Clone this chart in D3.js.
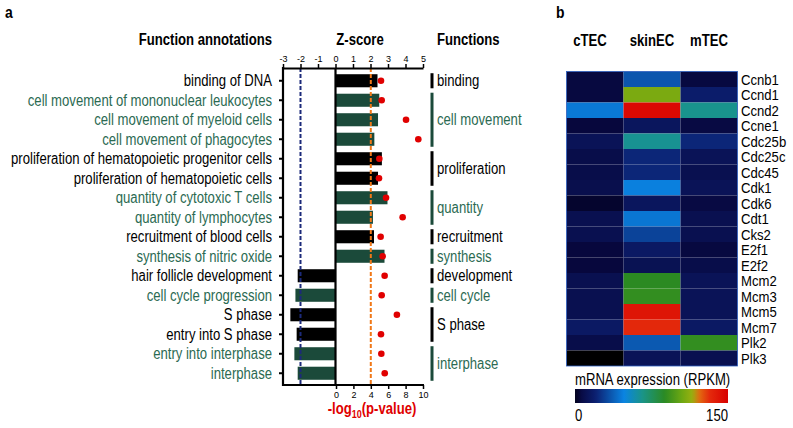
<!DOCTYPE html>
<html><head><meta charset="utf-8">
<script src="https://cdn.jsdelivr.net/npm/d3@7"></script>
<style>
body{margin:0;background:#fff;}
svg{font-family:"Liberation Sans",Arial,sans-serif;}
</style></head>
<body><svg id="c" width="793" height="428"></svg>
<script>
// ---------- Panel a data ----------
const terms = ["binding of DNA","cell movement of mononuclear leukocytes","cell movement of myeloid cells","cell movement of phagocytes","proliferation of hematopoietic progenitor cells","proliferation of hematopoietic cells","quantity of cytotoxic T cells","quantity of lymphocytes","recruitment of blood cells","synthesis of nitric oxide","hair follicle development","cell cycle progression","S phase","entry into S phase","entry into interphase","interphase"];
const termGroup = [0,1,1,1,0,0,1,1,0,1,0,1,0,0,1,1]; // 0 = black, 1 = green
const zScores = [2.4,2.5,2.43,2.22,2.65,2.43,2.97,2.14,2.2,2.8,-2.16,-2.29,-2.58,-2.22,-2.35,-2.16];
const negLogP = [5.17,5.25,8.05,9.46,4.98,4.94,5.75,7.66,5.13,5.36,5.59,5.25,7.0,5.17,5.21,5.6];
const zTicks = [-3,-2,-1,0,1,2,3,4,5];
const pTicks = [0,2,4,6,8,10];
const funcNames = ["binding","cell movement","proliferation","quantity","recruitment","synthesis","development","cell cycle","S phase","interphase"];
const funcStart = [0,1,4,6,8,9,10,11,12,14];
const funcEnd   = [0,3,5,7,8,9,10,11,13,15];
const funcGroup = [0,1,0,1,0,1,0,1,0,1];
const zThreshold = -2, pThreshold = 4;

// ---------- Panel b data ----------
const samples = ["cTEC","skinEC","mTEC"];
const genes = ["Ccnb1","Ccnd1","Ccnd2","Ccne1","Cdc25b","Cdc25c","Cdc45","Cdk1","Cdk6","Cdt1","Cks2","E2f1","E2f2","Mcm2","Mcm3","Mcm5","Mcm7","Plk2","Plk3"];
const cTEC   = [5,5,45,4,12,8,8,9,3,10,10,4,4,10,10,10,16,8,0];
const skinEC = [35,108,146,14,64,22,22,47,14,44,30,16,11,88,90,141,133,36,12];
const mTEC   = [5,18,65,6,22,12,10,12,6,10,10,5,8,12,12,12,16,90,10];
const legendTicks = [0,150];

const GREEN_BAR = "#1b4a3a", GREEN_TXT = "#2b6a52";
const colOf = g => g ? GREEN_TXT : "#000";
const SX = 0.82; // condensed (narrow) text

const svg = d3.select("#c");
// narrow text helper
function nt(parent, x, y, txt, o = {}) {
  const t = parent.append("text")
    .attr("transform", `translate(${x},${y}) scale(${o.sx || SX},1)`)
    .attr("font-size", o.size || 16)
    .attr("text-anchor", o.anchor || "start")
    .attr("fill", o.fill || "#000");
  if (o.bold) t.attr("font-weight", "bold");
  if (o.dy) t.attr("dy", o.dy);
  if (txt !== null) t.text(txt);
  return t;
}

// ---------- Panel a ----------
const x = d3.scaleLinear().domain([-3,5]).range([283,423]);
const xp = d3.scaleLinear().domain([0,10]).range([336,423]);
const y = d3.scaleBand().domain(terms).range([71,383]).paddingInner(0.33).paddingOuter(0.165);
const yTop = 68, yBot = 385;

nt(svg, 5, 18, "a", {bold:true, size:17});
nt(svg, 272, 45, "Function annotations", {bold:true, anchor:"end"});
nt(svg, 360, 45, "Z-score", {bold:true, anchor:"middle"});
nt(svg, 437, 45, "Functions", {bold:true});

// bars
svg.append("g").selectAll("rect").data(terms).join("rect")
  .attr("x",(d,i)=>Math.min(x(0),x(zScores[i])))
  .attr("width",(d,i)=>Math.abs(x(zScores[i])-x(0)))
  .attr("y",d=>y(d)).attr("height",y.bandwidth())
  .attr("fill",(d,i)=>termGroup[i]?GREEN_BAR:"#000");

// zero line
svg.append("line").attr("x1",x(0)).attr("x2",x(0)).attr("y1",yTop).attr("y2",yBot).attr("stroke","#000").attr("stroke-width",2.2);
// threshold lines
svg.append("line").attr("x1",x(zThreshold)).attr("x2",x(zThreshold)).attr("y1",yTop).attr("y2",yBot)
  .attr("stroke","#1c2a7a").attr("stroke-width",2).attr("stroke-dasharray","4,2");
svg.append("line").attr("x1",xp(pThreshold)).attr("x2",xp(pThreshold)).attr("y1",yTop).attr("y2",yBot)
  .attr("stroke","#f07818").attr("stroke-width",2).attr("stroke-dasharray","4,2");

// dots
svg.append("g").selectAll("circle").data(terms).join("circle")
  .attr("cx",(d,i)=>xp(negLogP[i])).attr("cy",d=>y(d)+y.bandwidth()/2).attr("r",3.3).attr("fill","#e00000");

// top axis
const gTop = svg.append("g").attr("transform",`translate(0,${yTop})`)
  .call(d3.axisTop(x).tickValues(zTicks).tickSize(4).tickSizeOuter(0).tickFormat(d3.format("d")));
gTop.select(".domain").attr("stroke-width",2.2);
gTop.selectAll(".tick line").attr("stroke-width",1.5);
gTop.selectAll("text").attr("font-size",9).attr("font-family",null).attr("dy","0.1em").text(d=>String(d));

// bottom axis
const gBot = svg.append("g").attr("transform",`translate(0,${yBot})`)
  .call(d3.axisBottom(xp).tickValues(pTicks).tickSize(4).tickSizeOuter(0));
gBot.select(".domain").remove();
gBot.selectAll(".tick line").attr("stroke-width",1.5);
gBot.selectAll("text").attr("font-size",9).attr("font-family",null);
svg.append("line").attr("x1",x(-3)-1).attr("x2",x(5)+1).attr("y1",yBot).attr("y2",yBot).attr("stroke","#000").attr("stroke-width",2.2);

// left axis (ticks) + labels
const gLeft = svg.append("g").attr("transform",`translate(${x(-3)},0)`)
  .call(d3.axisLeft(y).tickSize(4).tickFormat("").tickSizeOuter(0));
gLeft.select(".domain").remove();
gLeft.selectAll(".tick line").attr("stroke-width",2);
terms.forEach((d,i)=>nt(svg, x(-3)-11, y(d)+y.bandwidth()/2, d, {anchor:"end", dy:"0.35em", fill:colOf(termGroup[i])}));
svg.append("line").attr("x1",x(-3)).attr("x2",x(-3)).attr("y1",yTop-1).attr("y2",yBot+1).attr("stroke","#000").attr("stroke-width",2.2);

// bottom title
const bt = nt(svg, 372, 414, null, {bold:true, anchor:"middle", fill:"#e00000"});
bt.append("tspan").text("-log");
bt.append("tspan").attr("font-size",11).attr("dy",4).text("10");
bt.append("tspan").attr("dy",-4).text("(p-value)");

// function groups
const fg = svg.append("g");
funcNames.forEach((n,i)=>{
  const y0 = y(terms[funcStart[i]]) - 1, y1 = y(terms[funcEnd[i]]) + y.bandwidth() + 1;
  const c = funcGroup[i] ? GREEN_BAR : "#000";
  fg.append("rect").attr("x",430.5).attr("width",3).attr("y",y0).attr("height",y1-y0).attr("fill",c);
  nt(fg, 437, (y0+y1)/2, n, {dy:"0.35em", fill:colOf(funcGroup[i])});
});

// ---------- Panel b ----------
nt(svg, 556, 18, "b", {bold:true, size:17});
const hx = d3.scaleBand().domain(samples).range([566.5,737.5]);
const hy = d3.scaleBand().domain(genes).range([71.5,366]);
const color = d3.scaleLinear()
  .domain([0,4,20,48,66,88,105,115,122,132,150])
  .range(["#000000","#07073d","#0c1f70","#0a84e2","#1a9488","#2b8a22","#6ea812","#98b010","#e26a10","#e42a0c","#d80000"])
  .clamp(true);
const series = {cTEC, skinEC, mTEC};
const cells = [];
samples.forEach(s=>genes.forEach((g,i)=>cells.push({s,g,v:series[s][i]})));
svg.append("g").selectAll("rect").data(cells).join("rect")
  .attr("x",d=>hx(d.s)).attr("y",d=>hy(d.g)).attr("width",hx.bandwidth()).attr("height",hy.bandwidth())
  .attr("fill",d=>color(d.v));
svg.append("rect").attr("x",566.5).attr("y",71.5).attr("width",171).attr("height",294.5)
  .attr("fill","none").attr("stroke","#2d5fc0").attr("stroke-width",0.8);
samples.forEach((s,i)=>nt(svg, hx(s)+hx.bandwidth()/2 - (i===0?5:0), 46, s, {bold:true, anchor:"middle"}));
genes.forEach(g=>nt(svg, 741, hy(g)+hy.bandwidth()/2, g, {dy:"0.36em", size:15, sx:0.875}));

// legend
const defs = svg.append("defs");
const grad = defs.append("linearGradient").attr("id","lg");
d3.range(0,1.0001,0.02).forEach(t=>grad.append("stop").attr("offset",t).attr("stop-color",color(t*150 < 1 ? 2 : t*150)));
nt(svg, 575, 385, "mRNA expression (RPKM)");
const lx = d3.scaleLinear().domain([0,150]).range([575,728]);
svg.append("rect").attr("x",lx(0)).attr("y",389).attr("width",lx(150)-lx(0)).attr("height",14).attr("fill","url(#lg)");
legendTicks.forEach((d,i)=>nt(svg, lx(d), 421, String(d), {anchor:i===0?"start":"end"}));
</script></body></html>
